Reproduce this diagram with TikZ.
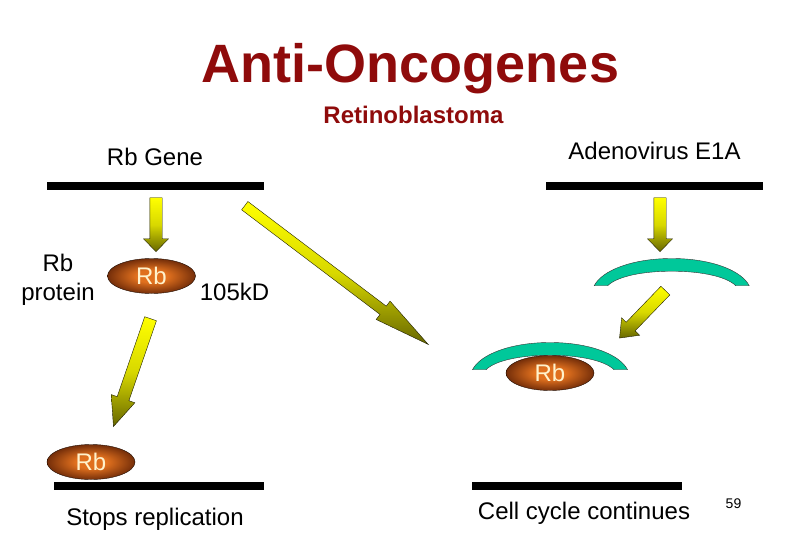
\documentclass[tikz,border=0pt]{standalone}
\usepackage{fontspec}
\setmainfont{Liberation Sans}
\usetikzlibrary{shapes.arrows,shapes.geometric}
\definecolor{rbred}{HTML}{8F0B0B}
\definecolor{rbinner}{HTML}{E0701E}
\definecolor{rbouter}{HTML}{6E2A08}
\definecolor{rbtext}{HTML}{FFF2CC}
\definecolor{archteal}{HTML}{00C89A}
\definecolor{arrtop}{HTML}{FFFF00}
\definecolor{arrmid}{HTML}{D8D800}
\definecolor{arrbot}{HTML}{666600}
\pgfdeclareradialshading{rbshade}{\pgfpoint{0bp}{0bp}}{color(0bp)=(rbinner); color(9bp)=(rbinner); color(26bp)=(rbouter); color(50bp)=(rbouter)}
\begin{document}
\begin{tikzpicture}[x=1pt,y=-1pt,
  label/.style={font=\fontsize{24}{29}\selectfont,text=black,inner sep=0pt,align=center},
  bar/.style={rectangle,fill=black,inner sep=0pt,minimum height=7.5pt},
  rb/.style={ellipse,draw=black!70!rbouter,thin,shading=rbshade,
             minimum width=88pt,minimum height=35pt,inner sep=0pt,
             font=\fontsize{24}{27}\selectfont,text=rbtext},
  blockarr/.style={single arrow,anchor=tip,draw=black!70!arrbot,thin,
             top color=arrtop,bottom color=arrbot,middle color=arrmid,inner xsep=0pt,inner ysep=6pt,
             single arrow head extend=6.3pt}
]
  \useasboundingbox (0,0) rectangle (810,540);

  % ---- Title --------------------------------
  \node[font=\fontsize{54}{60}\selectfont\bfseries,text=rbred,inner sep=0pt] (title) at (410.5,68.5) {Anti-Oncogenes};
  \node[font=\fontsize{24}{27}\selectfont\bfseries,text=rbred,inner sep=0pt] (subtitle) at (413.5,115) {Retinoblastoma};

  % ---- Bars --------------------------------
  \node[bar,minimum width=217pt] (barTL) at (155.5,186) {};
  \node[bar,minimum width=217pt] (barTR) at (654.5,186) {};
  \node[bar,minimum width=210pt] (barBL) at (159,486) {};
  \node[bar,minimum width=210pt] (barBR) at (577,486) {};

  % ---- Labels --------------------------------
  \node[label] (gene) at (155,157) {Rb Gene};
  \node[label] (adeno) at (654.5,151) {Adenovirus E1A};
  \node[label] (protein) at (58,279.5) {Rb\\protein};
  \node[label] (size) at (234.5,292) {105kD};
  \node[label] (stops) at (155,519) {Stops replication};
  \node[label] (cycle) at (584,513) {Cell cycle continues};
  \node[font=\fontsize{14}{16}\selectfont,inner sep=0pt] (page) at (733.5,504) {59};

  % ---- Block arrows --------------------------------
  \node[blockarr,rotate=-90,minimum height=54pt,single arrow tip angle=88] (arrA) at (156,252) {};
  \node[blockarr,rotate=-90,minimum height=54pt,single arrow tip angle=88] (arrB) at (660,252) {};
  \node[blockarr,rotate=-37.1,minimum height=230pt,inner ysep=5pt,single arrow tip angle=23] (arrC) at (429,345) {};
  \node[blockarr,rotate=-109,minimum height=114pt,single arrow tip angle=46] (arrD) at (113.3,427) {};
  \node[blockarr,rotate=-134,minimum height=66pt,single arrow tip angle=76] (arrE) at (619.3,338.3) {};

  % ---- Arches --------------------------------
  \foreach \cx/\by in {671.7/285.7,550/369.7}{
    \filldraw[fill=archteal,draw=black!80,thin]
      ({\cx-77.5},\by) .. controls ({\cx-70},{\by-15}) and ({\cx-40},{\by-27.2}) .. (\cx,{\by-27.2})
      .. controls ({\cx+40},{\by-27.2}) and ({\cx+70},{\by-15}) .. ({\cx+77.5},\by)
      -- ({\cx+64},\by)
      .. controls ({\cx+55},{\by-9}) and ({\cx+30},{\by-14.5}) .. (\cx,{\by-14.5})
      .. controls ({\cx-30},{\by-14.5}) and ({\cx-55},{\by-9}) .. ({\cx-64},\by)
      -- cycle;
  }

  % ---- Rb proteins --------------------------------
  \node[rb] (rbA) at (151.5,276) {Rb};
  \node[rb] (rbB) at (91,462) {Rb};
  \node[rb] (rbC) at (550,373) {Rb};
\end{tikzpicture}
\end{document}
